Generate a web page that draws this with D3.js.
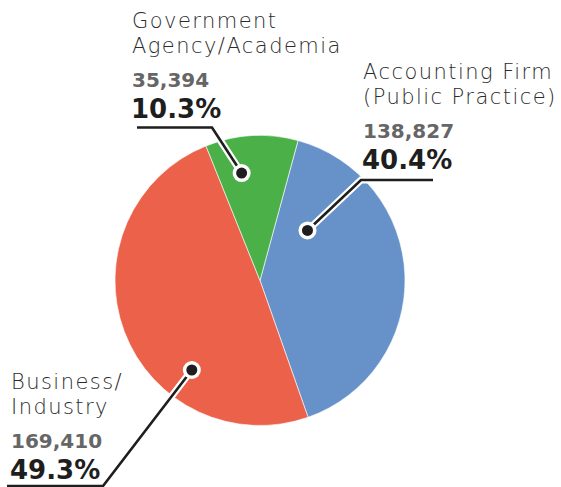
<!DOCTYPE html>
<html>
<head>
<meta charset="utf-8">
<script src="https://cdn.jsdelivr.net/npm/d3@7"></script>
<style>
  html, body { margin: 0; padding: 0; background: #fff; }
  svg { display: block; }
  .name { font-family: "DejaVu Sans", sans-serif; font-weight: 200; fill: #2b2b2b; letter-spacing: 1.45px; }
  .count { font-family: "DejaVu Sans", sans-serif; font-weight: 700; fill: #666; }
  .pct { font-family: "DejaVu Sans", sans-serif; font-weight: 700; fill: #1e1e1e; }
</style>
</head>
<body>
<svg id="chart" width="561" height="487"></svg>
<script>
// Employment sector of members
const categories = ["Accounting Firm (Public Practice)", "Business/Industry", "Government Agency/Academia"];
const nameLines = [["Accounting Firm", "(Public Practice)"], ["Business/", "Industry"], ["Government", "Agency/Academia"]];
const counts = [138827, 169410, 35394];
const percents = [40.4, 49.3, 10.3];
const colors = ["#6692C9", "#EB614A", "#4CB049"];

const width = 561, height = 487;
const cx = 260, cy = 280.5, radius = 145;
const deg = Math.PI / 180;

// Label placement: dot anchor (angle/radius inside the slice), elbow, line end, text block
const layout = [
  { dotAngle: 43.5, dotR: 69, elbow: [361, 180], end: [433, 180], textX: 363, base: 79 },
  { dotAngle: 217.3, dotR: 112.5, elbow: [103, 486], end: [7, 486], textX: 11, base: 389 },
  { dotAngle: -9.7, dotR: 109, elbow: [212, 127.5], end: [137, 127.5], textX: 132, base: 28 }
];

const svg = d3.select("#chart");
const g = svg.append("g").attr("transform", `translate(${cx},${cy})`);

const pie = d3.pie().sort(null).value(d => d)
  .startAngle(15.2 * deg).endAngle(15.2 * deg + 2 * Math.PI);
const arcs = pie(percents);
const arc = d3.arc().innerRadius(0).outerRadius(radius);

g.selectAll("path.slice").data(arcs).join("path")
  .attr("class", "slice")
  .attr("d", arc)
  .attr("fill", (d, i) => colors[i])
  .attr("stroke", "#fff")
  .attr("stroke-width", 0.6);

// Leader lines
const dotPos = l => [cx + l.dotR * Math.sin(l.dotAngle * deg), cy - l.dotR * Math.cos(l.dotAngle * deg)];
const line = d3.line();
layout.forEach(l => {
  const pts = [dotPos(l), l.elbow, l.end];
  svg.append("path").attr("d", line(pts)).attr("fill", "none")
    .attr("stroke", "#fff").attr("stroke-width", 7).attr("stroke-linejoin", "miter");
});
layout.forEach(l => {
  const pts = [dotPos(l), l.elbow, l.end];
  svg.append("path").attr("d", line(pts)).attr("fill", "none")
    .attr("stroke", "#1e1e1e").attr("stroke-width", 2.6).attr("stroke-linejoin", "miter");
});
layout.forEach(l => {
  const [x, y] = dotPos(l);
  svg.append("circle").attr("cx", x).attr("cy", y).attr("r", 9).attr("fill", "#fff");
  svg.append("circle").attr("cx", x).attr("cy", y).attr("r", 5.5).attr("fill", "#1e1e1e");
});

// Text blocks
const fmt = d3.format(",");
layout.forEach((l, i) => {
  const t = svg.append("g");
  nameLines[i].forEach((s, k) => {
    t.append("text").attr("class", "name").attr("x", l.textX).attr("y", l.base + k * 24.5)
      .attr("font-size", 21).text(s);
  });
  t.append("text").attr("class", "count").attr("x", l.textX).attr("y", l.base + 59)
    .attr("font-size", 20).text(fmt(counts[i]));
  t.append("text").attr("class", "pct").attr("x", l.textX - 1).attr("y", l.base + 90)
    .attr("font-size", 26).text(percents[i].toFixed(1) + "%");
});
</script>
</body>
</html>
